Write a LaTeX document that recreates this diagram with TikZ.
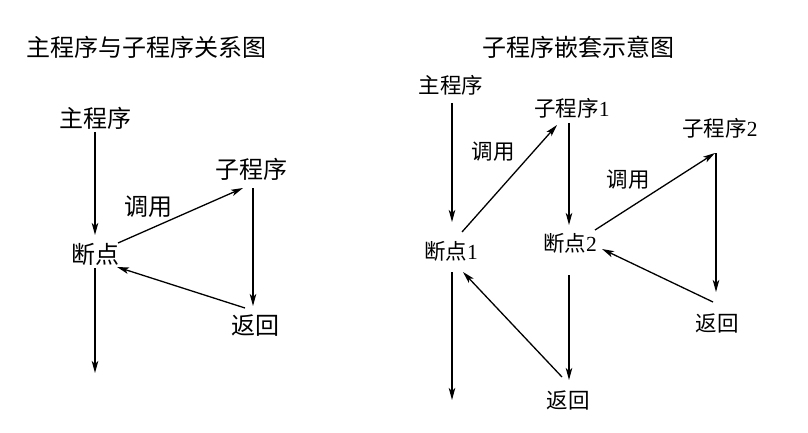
\documentclass[tikz,border=0pt]{standalone}
\usepackage{fontspec}
\setmainfont{Liberation Serif}
\newfontfamily\cjk{Noto Sans CJK SC}
\usetikzlibrary{arrows.meta,calc}
\begin{document}
\begin{tikzpicture}[x=1pt,y=1pt,
  big/.style={inner sep=0pt,font=\fontsize{24}{27}\selectfont\cjk},
  lbl/.style={inner sep=0pt,font=\fontsize{21.5}{24}\selectfont},
  conn/.style={line width=1.3pt,-{Stealth[length=12pt,width=6.5pt,inset=3pt]}},
  plain/.style={line width=1.3pt}]
\useasboundingbox (0,0) rectangle (808,-433);
% ---------- left diagram ----------
\node[big] (t1) at (146,-47) {主程序与子程序关系图};
\node[big] (mp) at (95,-118) {主程序};
\node[big] (dd) at (95,-254) {断点};
\node[big] (zc) at (251,-169) {子程序};
\node[big] (fh) at (255,-326) {返回};
\node[big] (dy) at (148,-207) {调用};
\coordinate (e1) at (95,-373);
\draw[conn] ($(mp.center)+(0,-14)$) -- ($(dd.center)+(0,19)$);
\draw[conn] ($(dd.center)+(0,-14)$) -- (e1);
\draw[conn] ($(dd.center)+(23,11)$) -- ($(zc.center)+(-8,-19)$);
\draw[conn] ($(zc.center)+(2,-19)$) -- ($(fh.center)+(-2,20)$);
\draw[conn] ($(fh.center)+(-10,18)$) -- ($(dd.center)+(22,-13)$);
% ---------- right diagram ----------
\node[big] (t2) at (578,-47) {子程序嵌套示意图};
\node[lbl] (mp2) at (451,-85) {\cjk 主程序};
\node[lbl] (dd1) at (451,-251) {{\cjk 断点}1};
\node[lbl] (zc1) at (572,-108) {{\cjk 子程序}1};
\node[lbl] (dd2) at (570,-243) {{\cjk 断点}2};
\node[lbl] (zc2) at (720,-128) {{\cjk 子程序}2};
\node[lbl] (fh1) at (568,-400) {\cjk 返回};
\node[lbl] (fh2) at (717,-323) {\cjk 返回};
\node[lbl] (dy1) at (493,-152) {\cjk 调用};
\node[lbl] (dy2) at (628,-180) {\cjk 调用};
\coordinate (e2) at (452,-400);
\draw[conn] ($(mp2.center)+(1,-18)$) -- ($(dd1.center)+(1,29)$);
\draw[conn] ($(dd1.center)+(1,-21)$) -- (e2);
\draw[conn] ($(dd1.center)+(11,19)$) -- ($(zc1.center)+(-15,-17)$);
\draw[conn] ($(zc1.center)+(-3,-15)$) -- ($(dd2.center)+(-1,18)$);
\draw[conn] ($(dd2.center)+(25,13)$) -- ($(zc2.center)+(-5,-25)$);
\draw[conn] ($(zc2.center)+(-4,-25)$) -- ($(fh2.center)+(-1,31)$);
\draw[conn] ($(fh2.center)+(-4,21)$) -- ($(dd2.center)+(32,-6)$);
\draw[conn] ($(dd2.center)+(-1,-32)$) -- ($(fh1.center)+(1,20)$);
\draw[conn] ($(fh1.center)+(-6,23)$) -- ($(dd1.center)+(12,-21)$);
\end{tikzpicture}
\end{document}
